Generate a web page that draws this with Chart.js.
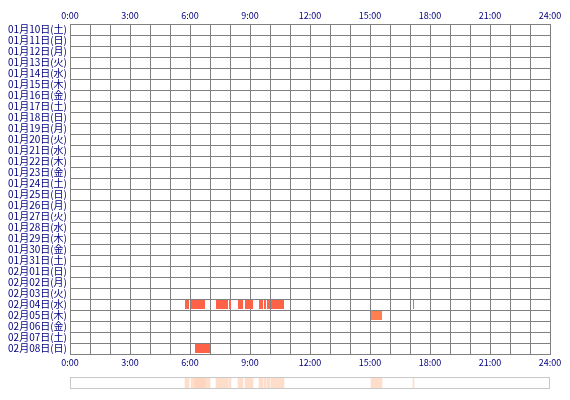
<!DOCTYPE html>
<html><head><meta charset="utf-8">
<script src="https://cdn.jsdelivr.net/npm/chart.js@4"></script>
<style>body{margin:0;background:#fff}#a{position:absolute;left:0;top:0}#b{position:absolute;left:0;top:376px}</style>
</head><body>
<div id="a" style="width:570px;height:372px"><canvas id="c1"></canvas></div>
<div id="b" style="width:570px;height:14px"><canvas id="c2"></canvas></div>
<script>
const days = ["01月10日(土)","01月11日(日)","01月12日(月)","01月13日(火)","01月14日(水)","01月15日(木)","01月16日(金)","01月17日(土)","01月18日(日)","01月19日(月)","01月20日(火)","01月21日(水)","01月22日(木)","01月23日(金)","01月24日(土)","01月25日(日)","01月26日(月)","01月27日(火)","01月28日(水)","01月29日(木)","01月30日(金)","01月31日(土)","02月01日(日)","02月02日(月)","02月03日(火)","02月04日(水)","02月05日(木)","02月06日(金)","02月07日(土)","02月08日(日)"];
const hourTicks = ["0:00","3:00","6:00","9:00","12:00","15:00","18:00","21:00","24:00"];
const redDays = ["02月04日(水)","02月04日(水)","02月04日(水)","02月04日(水)","02月04日(水)","02月04日(水)","02月04日(水)","02月04日(水)","02月04日(水)","02月04日(水)","02月04日(水)","02月08日(日)"];
const redStart = [5.75,6.05,7.3,7.95,8.4,8.75,9.45,9.7,9.85,10.05,17.15,6.25];
const redEnd   = [5.95,6.75,7.9,8.05,8.65,9.15,9.65,9.8,10.0,10.7,17.2,7.0];
const orangeDays = ["02月05日(木)"];
const orangeStart = [15.05];
const orangeEnd = [15.6];

const font = {family:"'Noto Sans CJK JP'", size:9};
const yfont = {family:"'Noto Sans CJK JP'", size:10};
const navy = '#000080';
const mk = (d,s,e)=>d.map((y,i)=>({x:[s[i],e[i]],y}));
const xOpts = (pos)=>({type:'linear',position:pos,min:0,max:24,
  grid:{color:'#808080',lineWidth:1,drawTicks:false},border:{color:'#808080'},
  ticks:{stepSize:1,autoSkip:false,maxRotation:0,color:navy,font,padding:3,
    callback:v=>v%3===0?hourTicks[v/3]:''},
  afterFit:a=>{a.height=pos==='top'?24:18;}});
new Chart(document.getElementById('c1'),{type:'bar',
  data:{labels:days,datasets:[
    {data:mk(redDays,redStart,redEnd),backgroundColor:'#ff6347',barPercentage:1,categoryPercentage:0.82,grouped:false,xAxisID:'x'},
    {data:mk(orangeDays,orangeStart,orangeEnd),backgroundColor:'#ff7f50',barPercentage:1,categoryPercentage:0.82,grouped:false,xAxisID:'x'}]},
  options:{indexAxis:'y',animation:false,responsive:true,maintainAspectRatio:false,
    layout:{padding:{left:0,right:20,top:0,bottom:0}},
    plugins:{legend:{display:false},tooltip:{enabled:false}},
    scales:{
      x:xOpts('bottom'),
      x2:xOpts('top'),
      y:{type:'category',offset:true,grid:{color:'#808080',offset:true,drawTicks:false},border:{color:'#808080'},
        ticks:{color:navy,font:yfont,padding:3,autoSkip:false},afterFit:a=>{a.width=70;}}
    }}});
const all = mk(redDays.map(()=>'a'),redStart,redEnd).concat(mk(orangeDays.map(()=>'a'),orangeStart,orangeEnd));
new Chart(document.getElementById('c2'),{type:'bar',
  data:{labels:['a'],datasets:[{data:all,backgroundColor:'rgba(255,210,185,0.75)',barPercentage:1,categoryPercentage:1,grouped:false}]},
  options:{indexAxis:'y',animation:false,responsive:true,maintainAspectRatio:false,
    layout:{padding:{left:70,right:20,top:1,bottom:1}},
    plugins:{legend:{display:false},tooltip:{enabled:false}},
    scales:{x:{type:'linear',min:0,max:24,display:false},y:{display:false}}},
  plugins:[{id:'frame',afterDraw(c){const a=c.chartArea,g=c.ctx;g.save();g.strokeStyle='#c8c8c8';g.lineWidth=1;g.strokeRect(a.left+0.5,a.top+0.5,a.width-1,a.height-1);g.restore();}}]});
</script></body></html>
